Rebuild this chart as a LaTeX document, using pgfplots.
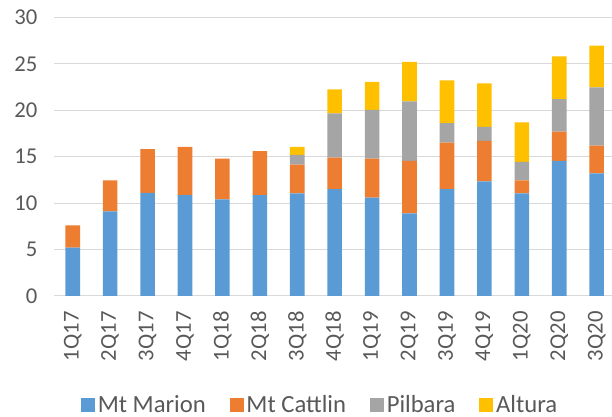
\documentclass[border=0pt]{standalone}
\usepackage{fontspec}
\setmainfont{Carlito}
\usepackage{pgfplots}
\usepackage{pgfplotstable}
\pgfplotsset{compat=1.18}
\definecolor{cBlue}{HTML}{5B9BD5}
\definecolor{cOrange}{HTML}{ED7D31}
\definecolor{cGray}{HTML}{A5A5A5}
\definecolor{cYellow}{HTML}{FFC000}
\definecolor{txt}{HTML}{595959}
\definecolor{gridc}{HTML}{D9D9D9}
\pgfplotstableread{
x mm mc p a
0 5.2 2.4 0 0
1 9.1 3.35 0 0
2 11.1 4.7 0 0
3 10.85 5.2 0 0
4 10.4 4.4 0 0
5 10.85 4.75 0 0
6 11.05 3.1 1.05 0.85
7 11.5 3.4 4.75 2.6
8 10.6 4.2 5.25 3.0
9 8.9 5.65 6.4 4.25
10 11.5 5.0 2.1 4.6
11 12.35 4.35 1.5 4.7
12 11.05 1.4 2.0 4.25
13 14.55 3.15 3.5 4.6
14 13.2 3.0 6.25 4.5
}\datatable
\begin{document}
\begin{tikzpicture}
\useasboundingbox (0,0) rectangle (459pt,312.75pt);
\begin{axis}[
  at={(40.5pt,90.75pt)}, anchor=south west,
  scale only axis, width=418.5pt, height=209pt,
  ybar stacked, bar width=0.39,
  xmin=-0.5, xmax=14.41, ymin=0, ymax=30,
  ytick={0,5,...,30},
  xtick={0,...,14},
  xticklabels={1Q17,2Q17,3Q17,4Q17,1Q18,2Q18,3Q18,4Q18,1Q19,2Q19,3Q19,4Q19,1Q20,2Q20,3Q20},
  ymajorgrids, grid style={gridc, line width=0.75pt},
  axis line style={draw=none},
  major tick length=0pt,
  /pgf/number format/assume math mode=true,
  every tick label/.append style={font=\fontsize{17}{20}\selectfont, text=txt},
  xticklabel style={rotate=90, anchor=east},
  xticklabel shift={8pt},
  yticklabel shift={9pt},
  clip=false,
  legend columns=4,
  legend style={at={(0.4776,-0.391)}, anchor=center, draw=none, fill=none,
    font=\fontsize{18.5}{21}\selectfont, text=txt,
    /tikz/every even column/.append style={column sep=16pt}},
  legend image code/.code={\fill[#1] (0pt,-5.25pt) rectangle (10.5pt,5.25pt);},
]
\addplot[fill=cBlue, draw=none] table[x=x, y=mm] {\datatable};
\addplot[fill=cOrange, draw=none] table[x=x, y=mc] {\datatable};
\addplot[fill=cGray, draw=none] table[x=x, y=p] {\datatable};
\addplot[fill=cYellow, draw=none] table[x=x, y=a] {\datatable};
\legend{Mt Marion, Mt Cattlin, Pilbara, Altura}
\end{axis}
\end{tikzpicture}
\end{document}
